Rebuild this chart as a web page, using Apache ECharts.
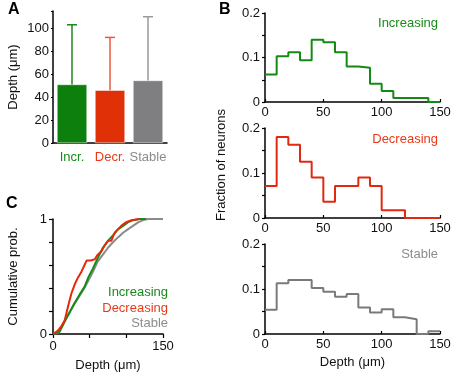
<!DOCTYPE html>
<html>
<head>
<meta charset="utf-8">
<script src="https://cdn.jsdelivr.net/npm/echarts@6/dist/echarts.min.js"></script>
<style>
  html, body { margin: 0; padding: 0; background: #fff; }
  #chart { width: 454px; height: 373px; }
</style>
</head>
<body>
<div id="chart"></div>
<script>
// panel A: mean depth +- SD
const groups = ['Incr.', 'Decr.', 'Stable'];
const meanDepth = [51, 46, 54.5];
const sdDepth = [52, 46, 55.5];

// panel B: histograms, 10 um bins starting at these edges
const binEdges = [0, 10, 20, 30, 40, 50, 60, 70, 80, 90, 100, 110, 120, 130, 140];
const histInc = [0.062, 0.103, 0.112, 0.094, 0.140, 0.134, 0.112, 0.080, 0.077, 0.041, 0.025, 0.009, 0.009, 0.009, 0];
const histDec = [0.071, 0.180, 0.163, 0.125, 0.090, 0.036, 0.071, 0.071, 0.090, 0.071, 0.017, 0.017, 0, 0, 0];
const histSta = [0.054, 0.113, 0.120, 0.120, 0.102, 0.094, 0.083, 0.089, 0.059, 0.048, 0.055, 0.037, 0.033, 0, 0.006];

// panel C: cumulative probability [depth, prob]
const cdfInc = [[0, 0], [9, 0.02], [16, 0.11], [23, 0.19], [29.5, 0.27], [36, 0.34], [43, 0.41], [48, 0.49],
  [54.5, 0.57], [61, 0.66], [68, 0.75], [75, 0.81], [82, 0.86], [88.6, 0.91], [95.5, 0.94], [102, 0.97],
  [109, 0.99], [118, 1], [127, 1]];
const cdfDec = [[0, 0], [6.8, 0.03], [11, 0.064], [16, 0.12], [20.5, 0.24], [25, 0.35], [29.5, 0.43], [34, 0.49],
  [38.6, 0.54], [43, 0.6], [46, 0.64], [52, 0.64], [57, 0.65], [61, 0.69], [66, 0.72], [70.5, 0.77], [75, 0.81],
  [79.5, 0.81], [84, 0.88], [88.6, 0.91], [93, 0.94], [99, 0.97], [107, 0.99], [118, 1]];
const cdfSta = [[0, 0], [7, 0.01], [13.6, 0.08], [20.5, 0.17], [27, 0.24], [34, 0.31], [41, 0.38], [48, 0.46],
  [54.5, 0.54], [61, 0.63], [68, 0.69], [75, 0.75], [82, 0.8], [88.6, 0.84], [95.5, 0.88], [102, 0.91],
  [109, 0.94], [116, 0.97], [123, 0.99], [129.5, 1], [150, 1]];

const GREEN = '#0c7f0c', RED = '#e03008', GRAY = '#7f7f82';
const textColors = ['#1a8a1a', '#e83a18', '#8c8c8c'];
const errColors = ['#1a8a1a', '#ea5a3c', '#9a9a9a'];
const font = 'Arial, "Liberation Sans", sans-serif';

const chart = echarts.init(document.getElementById('chart'));

const histData = (vals) => binEdges.map((x, i) => [x, vals[i]]).concat([[150, vals[vals.length - 1]]]);

const axisLineStyle = { show: true, lineStyle: { color: '#000', width: 1.5 } };
const labelStyle = { color: '#111', fontSize: 13, fontFamily: font };

const histYAxis = (gi) => ({
  gridIndex: gi, type: 'value', min: 0, max: 0.2, interval: 0.05,
  axisLine: axisLineStyle, splitLine: { show: false },
  axisTick: { show: true, length: 3, lineStyle: { color: '#000', width: 1.2 } },
  axisLabel: Object.assign({}, labelStyle, { margin: 5,
    formatter: v => { const k = Math.round(v * 100); return k % 10 === 0 ? (k === 0 ? '0' : (k / 100).toFixed(1)) : ''; } })
});
const histXAxis = (gi) => ({
  gridIndex: gi, type: 'value', min: 0, max: 150, interval: 50,
  axisLine: axisLineStyle, splitLine: { show: false },
  axisTick: { show: true, inside: true, length: 3, lineStyle: { color: '#000', width: 1.2 } },
  axisLabel: Object.assign({}, labelStyle, { margin: 4 })
});

const option = {
  animation: false,
  textStyle: { fontFamily: font },
  grid: [
    { left: 53, top: 11, width: 114, height: 132 },
    { left: 265, top: 13, width: 175, height: 89 },
    { left: 265, top: 128, width: 175, height: 90 },
    { left: 265, top: 244, width: 175, height: 90 },
    { left: 53, top: 219, width: 110, height: 115 }
  ],
  xAxis: [
    {
      gridIndex: 0, type: 'category', data: groups,
      axisLine: axisLineStyle, axisTick: { show: false },
      axisLabel: {
        margin: 8, fontSize: 13, fontFamily: font, interval: 0,
        formatter: (v, i) => '{c' + i + '|' + v + '}',
        rich: { c0: { color: textColors[0], fontSize: 13 }, c1: { color: textColors[1], fontSize: 13 }, c2: { color: textColors[2], fontSize: 13 } }
      }
    },
    histXAxis(1), histXAxis(2),
    Object.assign(histXAxis(3), {
      name: 'Depth (\u03bcm)', nameLocation: 'middle', nameGap: 22,
      nameTextStyle: { color: '#111', fontSize: 13, fontFamily: font }
    }),
    {
      gridIndex: 4, type: 'value', min: 0, max: 150, interval: 50,
      axisLine: axisLineStyle, splitLine: { show: false },
      axisTick: { show: true, length: 4, lineStyle: { color: '#000', width: 1.2 } },
      axisLabel: Object.assign({}, labelStyle, { margin: 6, formatter: v => (v === 0 || v === 150) ? String(v) : '' }),
      name: 'Depth (\u03bcm)', nameLocation: 'middle', nameGap: 25,
      nameTextStyle: { color: '#111', fontSize: 13, fontFamily: font }
    }
  ],
  yAxis: [
    {
      gridIndex: 0, type: 'value', min: 0, max: 115, interval: 20,
      axisLine: axisLineStyle, splitLine: { show: false },
      axisTick: { show: true, length: 2, lineStyle: { color: '#000', width: 1.2 } },
      axisLabel: Object.assign({}, labelStyle, { margin: 4, formatter: v => (v % 20 === 0 ? String(v) : '') }),
      name: 'Depth (\u03bcm)', nameLocation: 'middle', nameGap: 33,
      nameTextStyle: { color: '#111', fontSize: 13, fontFamily: font }
    },
    histYAxis(1), histYAxis(2), histYAxis(3),
    {
      gridIndex: 4, type: 'value', min: 0, max: 1, interval: 0.2,
      axisLine: axisLineStyle, splitLine: { show: false },
      axisTick: { show: true, length: 4, lineStyle: { color: '#000', width: 1.2 } },
      axisLabel: Object.assign({}, labelStyle, { margin: 6, formatter: v => (v === 0 || v === 1) ? String(v) : '' }),
      name: 'Cumulative prob.', nameLocation: 'middle', nameGap: 33,
      nameTextStyle: { color: '#111', fontSize: 13, fontFamily: font }
    }
  ],
  series: [
    {
      type: 'bar', xAxisIndex: 0, yAxisIndex: 0, barWidth: 30,
      data: meanDepth.map((v, i) => ({ value: v, itemStyle: { color: [GREEN, RED, GRAY][i], borderColor: '#fff', borderWidth: 0.5 } }))
    },
    {
      type: 'custom', xAxisIndex: 0, yAxisIndex: 0, z: 5,
      encode: { x: 0, y: [1, 2] },
      data: meanDepth.map((v, i) => ({ value: [i, v, v + sdDepth[i]], itemStyle: { color: errColors[i] } })),
      renderItem: (params, api) => {
        const base = api.coord([api.value(0), api.value(1)]);
        const top = api.coord([api.value(0), api.value(2)]);
        const style = { stroke: api.visual('color'), lineWidth: 1.5, fill: null };
        return {
          type: 'group', children: [
            { type: 'line', shape: { x1: top[0], y1: base[1], x2: top[0], y2: top[1] }, style },
            { type: 'line', shape: { x1: top[0] - 5, y1: top[1], x2: top[0] + 5, y2: top[1] }, style }
          ]
        };
      }
    },
    { type: 'line', xAxisIndex: 1, yAxisIndex: 1, step: 'end', showSymbol: false, data: histData(histInc), lineStyle: { color: '#138a13', width: 2 } },
    { type: 'line', xAxisIndex: 2, yAxisIndex: 2, step: 'end', showSymbol: false, data: histData(histDec), lineStyle: { color: '#e02a10', width: 2 } },
    { type: 'line', xAxisIndex: 3, yAxisIndex: 3, step: 'end', showSymbol: false, data: histData(histSta), lineStyle: { color: '#7a7a7a', width: 2 } },
    { type: 'line', xAxisIndex: 4, yAxisIndex: 4, showSymbol: false, data: cdfSta, lineStyle: { color: '#8a8a8a', width: 2 }, z: 2 },
    { type: 'line', xAxisIndex: 4, yAxisIndex: 4, showSymbol: false, data: cdfInc, lineStyle: { color: '#158c15', width: 2 }, z: 3 },
    { type: 'line', xAxisIndex: 4, yAxisIndex: 4, showSymbol: false, data: cdfDec, lineStyle: { color: '#e8280c', width: 2 }, z: 4 }
  ],
  graphic: [
    { type: 'text', left: 8, top: 2, style: { text: 'A', font: 'bold 16px ' + font, fill: '#000' } },
    { type: 'text', left: 219, top: 2, style: { text: 'B', font: 'bold 16px ' + font, fill: '#000' } },
    { type: 'text', left: 6, top: 196, style: { text: 'C', font: 'bold 16px ' + font, fill: '#000' } },
    { type: 'text', x: 438, y: 23, style: { text: 'Increasing', font: '13px ' + font, fill: textColors[0], align: 'right', verticalAlign: 'middle' } },
    { type: 'text', x: 438, y: 139, style: { text: 'Decreasing', font: '13px ' + font, fill: textColors[1], align: 'right', verticalAlign: 'middle' } },
    { type: 'text', x: 438, y: 254, style: { text: 'Stable', font: '13px ' + font, fill: textColors[2], align: 'right', verticalAlign: 'middle' } },
    { type: 'text', x: 168, y: 292, style: { text: 'Increasing', font: '13px ' + font, fill: textColors[0], align: 'right', verticalAlign: 'middle' } },
    { type: 'text', x: 168, y: 308, style: { text: 'Decreasing', font: '13px ' + font, fill: textColors[1], align: 'right', verticalAlign: 'middle' } },
    { type: 'text', x: 168, y: 323, style: { text: 'Stable', font: '13px ' + font, fill: textColors[2], align: 'right', verticalAlign: 'middle' } },
    { type: 'text', x: 221, y: 165, rotation: Math.PI / 2, style: { text: 'Fraction of neurons', font: '13px ' + font, fill: '#111', align: 'center', verticalAlign: 'middle' } }
  ]
};

chart.setOption(option);
</script>
</body>
</html>
